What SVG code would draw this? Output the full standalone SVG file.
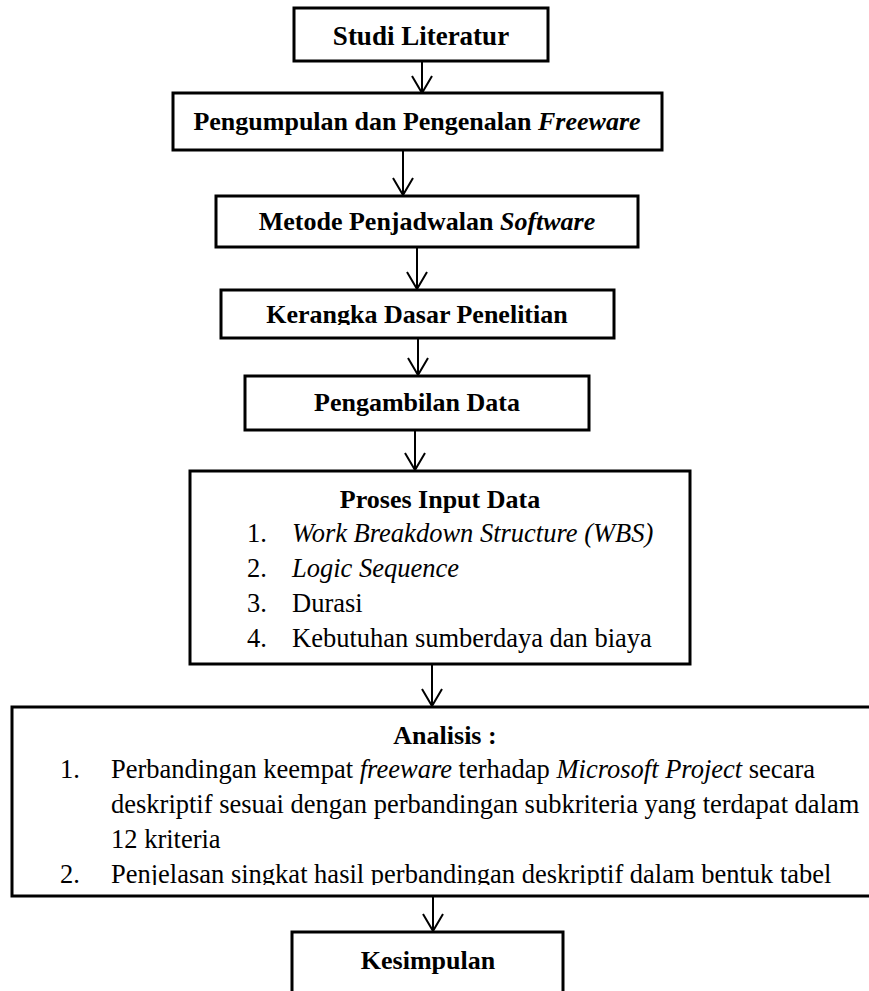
<svg xmlns="http://www.w3.org/2000/svg" width="869" height="991" viewBox="0 0 869 991">
<style>
.box{fill:#fff;stroke:#000;stroke-width:3}
.t{font-family:"Liberation Serif","Times New Roman",serif;font-size:26.5px;fill:#000}
.b{font-weight:bold;font-size:26px}
.c{text-anchor:middle}
.i{font-style:italic}
.con{fill:none;stroke:#000;stroke-width:2}
</style>
<defs>
<clipPath id="ck"><rect x="0" y="290" width="869" height="35"/></clipPath>
<clipPath id="ca"><rect x="0" y="707" width="869" height="178"/></clipPath>
</defs>
<g id="connectors" class="con">
<path d="M422 61V93M412 76L422 93L432 76"/>
<path d="M403 150V195M393 178L403 195L413 178"/>
<path d="M417 247V289M407 272L417 289L427 272"/>
<path d="M418 338V375M408 358L418 375L428 358"/>
<path d="M415 430V470M405 453L415 470L425 453"/>
<path d="M432 664V706M422 689L432 706L442 689"/>
<path d="M433 896V931M423 914L433 931L443 914"/>
</g>
<g id="studi">
<rect class="box" x="294" y="8" width="254" height="53"/>
<text class="t b c" style="font-size:27px" x="421" y="45">Studi Literatur</text>
</g>
<g id="pengumpulan">
<rect class="box" x="173" y="93" width="489" height="57"/>
<text class="t b c" x="417" y="130">Pengumpulan dan Pengenalan <tspan class="i">Freeware</tspan></text>
</g>
<g id="metode">
<rect class="box" x="216" y="196" width="422" height="51"/>
<text class="t b c" x="427" y="230">Metode Penjadwalan <tspan class="i">Software</tspan></text>
</g>
<g id="kerangka">
<rect class="box" x="221" y="290" width="393" height="48"/>
<text class="t b c" x="417" y="323" clip-path="url(#ck)">Kerangka Dasar Penelitian</text>
</g>
<g id="pengambilan">
<rect class="box" x="245" y="376" width="344" height="54"/>
<text class="t b c" x="417" y="411">Pengambilan Data</text>
</g>
<g id="proses">
<rect class="box" x="190" y="471" width="500" height="193"/>
<text class="t b c" x="440" y="508">Proses Input Data</text>
<text class="t" x="247" y="542">1.</text><text class="t i" x="292" y="542">Work Breakdown Structure (WBS)</text>
<text class="t" x="247" y="577">2.</text><text class="t i" x="292" y="577">Logic Sequence</text>
<text class="t" x="247" y="612">3.</text><text class="t" x="292" y="612">Durasi</text>
<text class="t" x="247" y="647">4.</text><text class="t" x="292" y="647">Kebutuhan sumberdaya dan biaya</text>
</g>
<g id="analisis">
<rect class="box" x="12" y="707" width="866" height="189"/>
<text class="t b c" x="445" y="744">Analisis :</text>
<text class="t" x="60" y="778">1.</text><text class="t" x="111" y="778">Perbandingan keempat <tspan class="i">freeware</tspan> terhadap <tspan class="i">Microsoft Project</tspan> secara</text>
<text class="t" x="111" y="813">deskriptif sesuai dengan perbandingan subkriteria yang terdapat dalam</text>
<text class="t" x="111" y="848">12 kriteria</text>
<g clip-path="url(#ca)"><text class="t" x="60" y="883">2.</text><text class="t" x="111" y="883">Penjelasan singkat hasil perbandingan deskriptif dalam bentuk tabel</text></g>
</g>
<g id="kesimpulan">
<rect class="box" x="292" y="932" width="271" height="80"/>
<text class="t b c" x="428" y="969">Kesimpulan</text>
</g>
</svg>
